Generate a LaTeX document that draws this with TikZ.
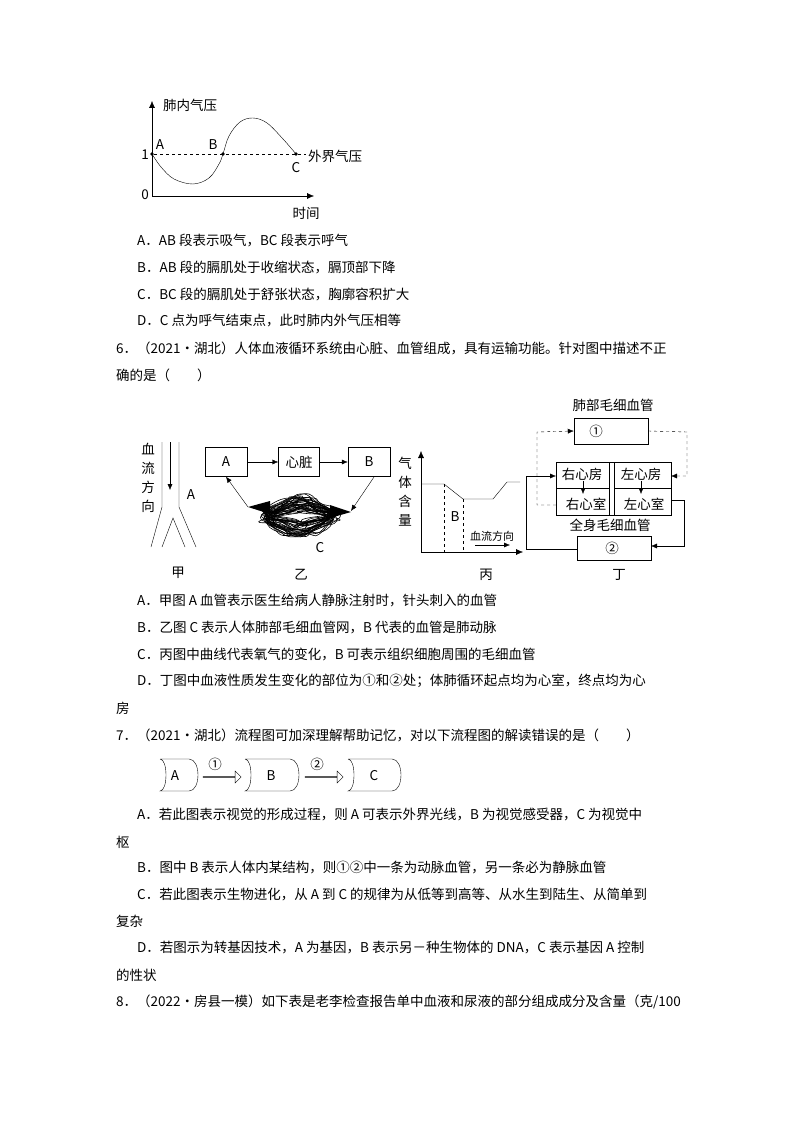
\documentclass[tikz,border=0pt]{standalone}
\usepackage{fontspec}
\setmainfont{Noto Sans CJK SC}
\usetikzlibrary{arrows.meta, positioning, shapes.arrows}

\begin{document}
\begin{tikzpicture}[x=1pt, y=-1pt,
txt/.style={anchor=west, inner sep=0pt, font=\fontsize{13.5}{14}\selectfont},
lbl/.style={inner sep=0pt, font=\fontsize{13.5}{14}\selectfont},
sml/.style={inner sep=0pt, font=\fontsize{11}{12}\selectfont},
box/.style={draw, rectangle, inner sep=0pt, font=\fontsize{13.5}{14}\selectfont},
arrow/.style={-{Latex[length=6pt,width=5pt]}},
dasharrow/.style={dashed, -{Latex[length=6pt,width=5pt]}},
dot/.style={circle, fill, inner sep=1.3pt},
flow/.style={draw, single arrow, single arrow head extend=3pt, minimum height=38pt, minimum width=12pt, inner sep=0pt}
]
\useasboundingbox (0,0) rectangle (794,1123);

% lung pressure graph
\coordinate (o) at (152,196);
\draw[-{Latex[length=7pt,width=6pt]}] (o) -- (152,101) coordinate (ytop);
\draw[-{Latex[length=7pt,width=6pt]}] (o) -- (314,196) coordinate (xend);
\node[dot] (pa) at (152,154) {};
\node[dot] (pb) at (223,154) {};
\node[dot] (pc) at (296,154) {};
\draw[dashed] (pa) -- (306,154) coordinate (dend);
\draw plot[smooth, tension=0.6] coordinates {(152,154) (161,167) (174,179) (193,184) (209,178) (219,164) (223,154) (229,136) (240,122) (253,118) (267,123) (283,139) (296,154)};
\node[lbl, anchor=west] (yl) at (163,105) {肺内气压};
\node[lbl, anchor=west] (ol) at (308,156) {外界气压};
\node[lbl] (xl) at (306,213) {时间};
\node[lbl] (n0) at (145,195) {0};
\node[lbl] (n1) at (145,155) {1};
\node[lbl] (la) at (160,145) {A};
\node[lbl] (lb) at (213,145) {B};
\node[lbl] (lc) at (296,168) {C};

\node[txt] (q5a) at (137,241) {A．AB 段表示吸气，BC 段表示呼气};
\node[txt] (q5b) at (137,268) {B．AB 段的膈肌处于收缩状态，膈顶部下降};
\node[txt] (q5c) at (137,295) {C．BC 段的膈肌处于舒张状态，胸廓容积扩大};
\node[txt] (q5d) at (137,321) {D．C 点为呼气结束点，此时肺内外气压相等};
\node[txt] (q6) at (116,348) {6．（2021•湖北）人体血液循环系统由心脏、血管组成，具有运输功能。针对图中描述不正};
\node[txt] (q6b) at (116,375) {确的是（　　）};

% jia
\draw (162,442) -- (162,507) -- (151,547);
\draw (179,442) -- (179,507) -- (196,547);
\draw (162,547) -- (173,518) -- (185,547);
\draw[arrow] (170,442) -- (170,490);
\node[lbl] (v1) at (148,449) {血};
\node[lbl] (v2) at (148,468) {流};
\node[lbl] (v3) at (148,487) {方};
\node[lbl] (v4) at (148,506) {向};
\node[lbl] (ja) at (191,495) {A};
\node[lbl] (jia) at (178,573) {甲};

% yi
\node[box, minimum width=42pt, minimum height=29pt] (ya) at (226,462) {A};
\node[box, minimum width=41pt, minimum height=29pt] (heart) at (299,462) {心脏};
\node[box, minimum width=42pt, minimum height=29pt] (yb) at (369,462) {B};
\draw[arrow] (ya) -- (heart);
\draw[arrow] (heart) -- (yb);
\pgfmathsetseed{7}
\foreach \k in {1,...,34}{
  \pgfmathsetmacro{\cx}{300+rand*5}
  \pgfmathsetmacro{\cy}{516+rand*3}
  \pgfmathsetmacro{\s}{0.3+0.7*rnd}
  \draw[line width=0.6pt] plot[smooth cycle, tension=0.8] coordinates {
    ({\cx+(32+rand*6)},{\cy+rand*4})
    ({\cx+\s*(18+rand*6)},{\cy+\s*(14+rand*4)})
    ({\cx+rand*10},{\cy+\s*(20+rand*5)})
    ({\cx-\s*(18+rand*6)},{\cy+\s*(14+rand*4)})
    ({\cx-(32+rand*6)},{\cy+rand*4})
    ({\cx-\s*(18+rand*6)},{\cy-\s*(14+rand*4)})
    ({\cx+rand*10},{\cy-\s*(20+rand*5)})
    ({\cx+\s*(18+rand*6)},{\cy-\s*(14+rand*4)})};
}
\fill (248,507) -- (270,501) -- (270,514) -- cycle;
\fill (351,512) -- (330,505) -- (330,518) -- cycle;
\coordinate (blobl) at (248,507);
\coordinate (blobr) at (351,511);
\coordinate (ybs) at (374,477);
\draw[arrow] (blobl) -- (ya.south);
\draw[arrow] (ybs) -- (blobr);
\node[lbl] (yc) at (320,548) {C};
\node[lbl] (yi) at (301,575) {乙};

% bing
\draw[-{Latex[length=7pt,width=6pt]}] (421,552) -- (421,451) coordinate (btop);
\draw[-{Latex[length=7pt,width=6pt]}] (421,552) -- (523,552) coordinate (bend);
\draw (421,484) -- (444,484) -- (463,499) -- (493,499) -- (507,482) -- (520,482);
\draw[dashed] (444,484) -- (444,552);
\draw[dashed] (463,499) -- (463,552);
\node[lbl] (bb) at (455,517) {B};
\node[sml] (bf) at (492,536) {血流方向};
\draw[-{Latex[length=6pt,width=5pt]}] (475,545) -- (510,545);
\node[lbl] (g1) at (405,463) {气};
\node[lbl] (g2) at (405,482) {体};
\node[lbl] (g3) at (405,501) {含};
\node[lbl] (g4) at (405,520) {量};
\node[lbl] (bing) at (486,575) {丙};

% ding
\node[lbl] (lungcap) at (613,405) {肺部毛细血管};
\node[box, minimum width=74pt, minimum height=26pt] (c1) at (611,431) {};
\node[lbl] (c1l) at (596,431) {①};
\draw (556,462) rectangle (671,515);
\draw (609,462) -- (609,515);
\draw (614,462) -- (614,515);
\draw (556,488) -- (609,488);
\draw (614,488) -- (671,488);
\node[lbl] (ra) at (582,474) {右心房};
\node[lbl] (rv) at (586,504) {右心室};
\node[lbl] (la2) at (641,474) {左心房};
\node[lbl] (lv) at (644,504) {左心室};
\draw[arrow] (583,481) -- (583,494);
\draw[arrow] (641,481) -- (641,494);
\draw[dasharrow] (556,505) -- (537,505) -- (537,432) -- (c1.west);
\draw[dasharrow] (c1.east) -- (687,432) -- (687,476) -- (671,476);
\node[lbl] (bodycap) at (610,525) {全身毛细血管};
\node[box, minimum width=74pt, minimum height=24pt] (c2) at (614,548) {};
\node[lbl] (c2l) at (612,548) {②};
\draw[arrow] (671,500) -- (684,500) -- (684,546) -- (651,546);
\draw[arrow] (577,549) -- (526,549) -- (526,476) -- (556,476);
\node[lbl] (ding) at (619,575) {丁};

\node[txt] (q6a1) at (137,601) {A．甲图 A 血管表示医生给病人静脉注射时，针头刺入的血管};
\node[txt] (q6a2) at (137,628) {B．乙图 C 表示人体肺部毛细血管网，B 代表的血管是肺动脉};
\node[txt] (q6a3) at (137,654) {C．丙图中曲线代表氧气的变化，B 可表示组织细胞周围的毛细血管};
\node[txt] (q6a4) at (137,681) {D．丁图中血液性质发生变化的部位为①和②处；体肺循环起点均为心室，终点均为心};
\node[txt] (q6a5) at (116,708) {房};
\node[txt] (q7) at (116,735) {7．（2021•湖北）流程图可加深理解帮助记忆，对以下流程图的解读错误的是（　　）};

% flow chart
\draw (160,759) -- (189,759) .. controls (201,759) and (201,791) .. (189,791) -- (160,791) .. controls (168,791) and (168,759) .. (160,759);
\draw (245,759) -- (290,759) .. controls (302,759) and (302,791) .. (290,791) -- (245,791) .. controls (253,791) and (253,759) .. (245,759);
\draw (348,759) -- (392,759) .. controls (404,759) and (404,791) .. (392,791) -- (348,791) .. controls (356,791) and (356,759) .. (348,759);
\node[lbl] (fa) at (175,776) {A};
\node[lbl] (fb) at (271,776) {B};
\node[lbl] (fc) at (374,776) {C};
\node[flow] (ar1) at (222,777) {};
\node[flow] (ar2) at (324,777) {};
\node[lbl] (f1) at (215,764) {①};
\node[lbl] (f2) at (317,764) {②};

\node[txt] (q7a) at (137,815) {A．若此图表示视觉的形成过程，则 A 可表示外界光线，B 为视觉感受器，C 为视觉中};
\node[txt] (q7a2) at (116,842) {枢};
\node[txt] (q7b) at (137,868) {B．图中 B 表示人体内某结构，则①②中一条为动脉血管，另一条必为静脉血管};
\node[txt] (q7c) at (137,895) {C．若此图表示生物进化，从 A 到 C 的规律为从低等到高等、从水生到陆生、从简单到};
\node[txt] (q7c2) at (116,921) {复杂};
\node[txt] (q7d) at (137,948) {D．若图示为转基因技术，A 为基因，B 表示另－种生物体的 DNA，C 表示基因 A 控制};
\node[txt] (q7d2) at (116,975) {的性状};
\node[txt] (q8) at (116,1002) {8．（2022•房县一模）如下表是老李检查报告单中血液和尿液的部分组成成分及含量（克/100};
\end{tikzpicture}
\end{document}
